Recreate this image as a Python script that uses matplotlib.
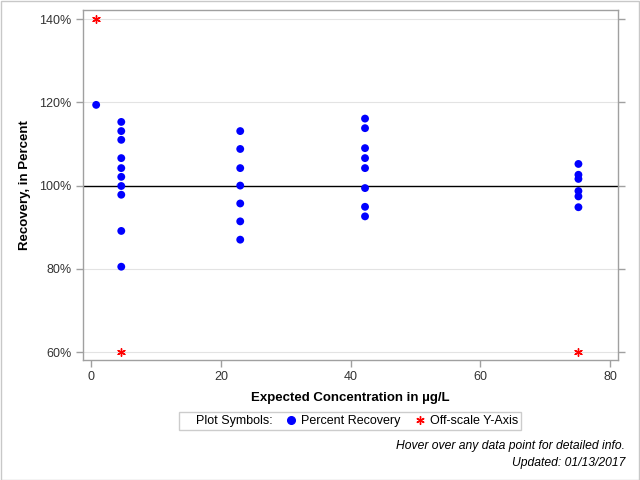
import matplotlib
matplotlib.use("Agg")
import matplotlib.pyplot as plt
from matplotlib.lines import Line2D
from matplotlib.patches import Rectangle

plt.rcParams['font.family'] = ['Liberation Sans', 'DejaVu Sans']

# Data
conc = [0.75,
        4.62, 4.62, 4.62, 4.62, 4.62, 4.62, 4.62, 4.62, 4.62, 4.62,
        22.96, 22.96, 22.96, 22.96, 22.96, 22.96, 22.96,
        42.2, 42.2, 42.2, 42.2, 42.2, 42.2, 42.2, 42.2,
        75.1, 75.1, 75.1, 75.1, 75.1, 75.1]
recovery = [119.4,
            115.3, 113.1, 111.0, 106.6, 104.2, 102.1, 99.9, 97.8, 89.1, 80.5,
            113.1, 108.8, 104.2, 100.0, 95.7, 91.4, 87.0,
            116.1, 113.8, 109.0, 106.6, 104.2, 99.4, 94.9, 92.6,
            105.2, 102.6, 101.6, 98.7, 97.4, 94.8]
off_x = [0.75, 4.62, 75.1]
off_y = [140, 60, 60]
yticks = [60, 80, 100, 120, 140]
ytick_labels = ['60%', '80%', '100%', '120%', '140%']
xticks = [0, 20, 40, 60, 80]

W, H = 640, 480
fig = plt.figure(figsize=(6.4, 4.8), dpi=100)
fig.patches.append(Rectangle((0.5/W, 0.5/H), 1 - 1.5/W, 1 - 1.5/H, transform=fig.transFigure,
                             fill=False, edgecolor='#c8c8c8', linewidth=1))

ax = fig.add_axes([83/W, 1 - 359.5/H, (618 - 83)/W, (359.5 - 10)/H])
ax.set_xlim(-1.28, 81.2)
ax.set_ylim(58.2, 142.2)

for y in [60, 80, 120, 140]:
    ax.axhline(y, color='#e3e3e3', linewidth=0.8, zorder=0)
ax.axhline(100, color='black', linewidth=1.0, zorder=1)

ax.scatter(conc, recovery, s=32, color='#0000ff', edgecolors='none', zorder=3)
ax.scatter(off_x, off_y, s=30, marker=(6, 2, 0), color='#ff0000', linewidths=1.0, zorder=3)

ax.set_yticks(yticks)
ax.set_yticklabels(ytick_labels)
ax.set_xticks(xticks)
for sp in ax.spines.values():
    sp.set_color('#a0a0a0')
    sp.set_linewidth(1.0)
ax.tick_params(axis='both', colors='#a0a0a0', labelcolor='#333333', labelsize=9, length=5, width=1)
ax.tick_params(axis='y', right=True)

ax.set_xlabel('Expected Concentration in µg/L', fontsize=9.5, fontweight='bold', labelpad=6)
ax.set_ylabel('Recovery, in Percent', fontsize=9.5, fontweight='bold', labelpad=6)

handles = [Line2D([], [], linestyle='none', marker=None),
           Line2D([], [], linestyle='none', marker='o', color='#0000ff', markersize=5.5),
           Line2D([], [], linestyle='none', marker=(6, 2, 0), color='#ff0000', markersize=6,
                  markeredgewidth=1.0)]
labels = ['Plot Symbols:', 'Percent Recovery', 'Off-scale Y-Axis']
leg = fig.legend(handles, labels, loc='center', bbox_to_anchor=(350/W, 1 - 421/H), ncol=3,
                 fontsize=9, frameon=True, fancybox=False, edgecolor='#c0c0c0',
                 handlelength=0.6, handletextpad=0.5, columnspacing=1.2,
                 borderpad=0.25)
leg.get_frame().set_linewidth(1.0)

fig.text(625/W, 1 - 446/H, 'Hover over any data point for detailed info.', ha='right', va='center',
         fontsize=8.7, style='italic')
fig.text(625/W, 1 - 463/H, 'Updated: 01/13/2017', ha='right', va='center',
         fontsize=8.7, style='italic')

fig.savefig('out.png', dpi=100)
